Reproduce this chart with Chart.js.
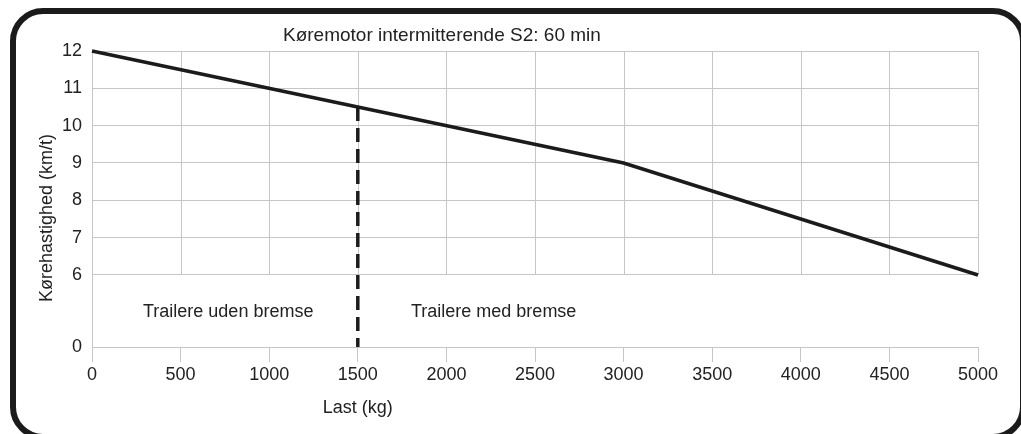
<!DOCTYPE html>
<html>
<head>
<meta charset="utf-8">
<script src="https://cdn.jsdelivr.net/npm/chart.js@4"></script>
<style>
  html, body { margin: 0; padding: 0; background: #fff; }
  #wrap { position: relative; width: 1021px; height: 434px; overflow: hidden; }
  canvas { display: block; }
</style>
</head>
<body>
<div id="wrap"><canvas id="c" width="1021" height="434"></canvas></div>
<script>
// ---- data ----
const loadKg = [0, 1500, 3000, 5000];
const speedKmt = [12, 10.5, 9, 6];
const brakeLimitKg = [1500, 1500];
const brakeLimitSpeed = [10.5, 0];
const xTickValues = [0, 500, 1000, 1500, 2000, 2500, 3000, 3500, 4000, 4500, 5000];
const yTickValues = [0, 6, 7, 8, 9, 10, 11, 12];
const chartTitle = 'Køremotor intermitterende S2: 60 min';
const xAxisTitle = 'Last (kg)';
const yAxisTitle = 'Kørehastighed (km/t)';
const regionLabels = ['Trailere uden bremse', 'Trailere med bremse'];

// broken y axis: 0 is drawn a little below 6
const Y_AXIS_MIN = 4.07;
function toAxis(v) { return v >= 6 ? v : Y_AXIS_MIN + v * (6 - Y_AXIS_MIN) / 6; }
function fromAxis(a) { return a >= 6 ? a : Math.round((a - Y_AXIS_MIN) * 6 / (6 - Y_AXIS_MIN)); }

const FONT = "'Liberation Sans', Arial, Helvetica, sans-serif";
const TEXT = '#222222';
const GRID = '#c6c6c6';
const INK = '#1b1b1b';

const overlay = {
  id: 'overlay',
  beforeDatasetsDraw(chart) {
    const ctx = chart.ctx, xs = chart.scales.x, ys = chart.scales.y;
    ctx.save();
    ctx.strokeStyle = GRID;
    ctx.lineWidth = 1;
    const top = ys.getPixelForValue(toAxis(12));
    const bot = ys.getPixelForValue(toAxis(6));
    xTickValues.forEach(v => {
      const x = Math.round(xs.getPixelForValue(v)) + 0.5;
      ctx.beginPath(); ctx.moveTo(x, top); ctx.lineTo(x, bot); ctx.stroke();
    });
    ctx.restore();
  },
  afterDraw(chart) {
    const ctx = chart.ctx, xs = chart.scales.x;
    ctx.save();
    ctx.fillStyle = TEXT;
    // chart title
    ctx.font = '19px ' + FONT;
    ctx.textAlign = 'left'; ctx.textBaseline = 'alphabetic';
    ctx.fillText(chartTitle, 283, 41);
    // region labels
    ctx.font = '18px ' + FONT;
    ctx.fillText(regionLabels[0], 143, 317);
    ctx.fillText(regionLabels[1], 411, 317);
    // x axis title
    ctx.textAlign = 'center'; ctx.textBaseline = 'middle';
    ctx.fillText(xAxisTitle, xs.getPixelForValue(brakeLimitKg[0]), 408);
    // y axis title
    ctx.translate(47, 218);
    ctx.rotate(-Math.PI / 2);
    ctx.fillText(yAxisTitle, 0, 0);
    ctx.restore();
    // frame
    ctx.save();
    ctx.strokeStyle = INK;
    ctx.lineWidth = 6;
    ctx.beginPath();
    ctx.roundRect(13, 11, 1010, 426, 30);
    ctx.stroke();
    ctx.restore();
  }
};

new Chart(document.getElementById('c'), {
  type: 'line',
  data: {
    datasets: [
      {
        data: loadKg.map((x, i) => ({ x, y: toAxis(speedKmt[i]) })),
        borderColor: INK, borderWidth: 3.5, pointRadius: 0, tension: 0, clip: false
      },
      {
        data: brakeLimitKg.map((x, i) => ({ x, y: toAxis(brakeLimitSpeed[i]) })),
        borderColor: INK, borderWidth: 3.5, borderDash: [14, 7], pointRadius: 0, tension: 0, clip: false
      }
    ]
  },
  options: {
    responsive: false,
    animation: false,
    devicePixelRatio: 1,
    layout: { padding: { top: 51, right: 43, left: 0, bottom: 0 } },
    plugins: { legend: { display: false }, tooltip: { enabled: false }, title: { display: false } },
    scales: {
      x: {
        type: 'linear', min: 0, max: 5000,
        afterBuildTicks(s) { s.ticks = xTickValues.map(v => ({ value: v })); },
        afterFit(s) { s.height = 87; },
        grid: { drawOnChartArea: false, drawTicks: true, tickLength: 15, color: GRID, lineWidth: 1 },
        border: { display: true, color: GRID, width: 1 },
        ticks: {
          color: TEXT, font: { family: FONT, size: 18 }, padding: 2, maxRotation: 0, autoSkip: false,
          callback: (v) => String(v)
        }
      },
      y: {
        type: 'linear', min: Y_AXIS_MIN, max: 12,
        afterBuildTicks(s) { s.ticks = yTickValues.map(v => ({ value: toAxis(v) })); },
        afterFit(s) { s.width = 92; },
        grid: { drawOnChartArea: true, drawTicks: false, color: GRID, lineWidth: 1 },
        border: { display: true, color: GRID, width: 1 },
        ticks: {
          color: TEXT, font: { family: FONT, size: 18 }, padding: 10, autoSkip: false,
          callback: (v) => String(fromAxis(v))
        }
      }
    }
  },
  plugins: [overlay]
});
</script>
</body>
</html>
